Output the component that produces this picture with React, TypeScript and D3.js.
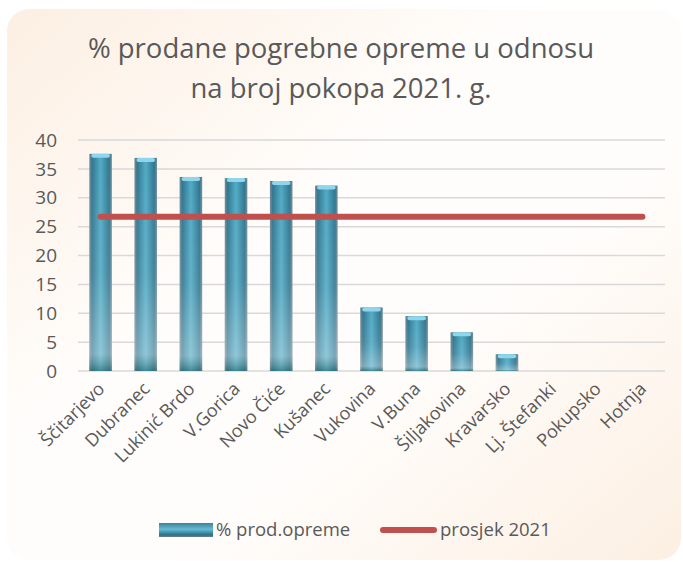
import * as d3 from "d3";
import React from "react";

const titleLines = ["% prodane pogrebne opreme u odnosu", "na broj pokopa 2021. g."];
const places = [
  "Ščitarjevo", "Dubranec", "Lukinić Brdo", "V.Gorica", "Novo Čiće", "Kušanec",
  "Vukovina", "V.Buna", "Šiljakovina", "Kravarsko", "Lj. Štefanki", "Pokupsko", "Hotnja",
];
const pctSold = [37.6, 36.9, 33.6, 33.4, 32.9, 32.1, 11.0, 9.5, 6.7, 2.9, 0, 0, 0];
const avg2021 = [26.7, 26.7, 26.7, 26.7, 26.7, 26.7, 26.7, 26.7, 26.7, 26.7, 26.7, 26.7, 26.7];
const yTicks = [0, 5, 10, 15, 20, 25, 30, 35, 40];
const seriesNames = ["% prod.opreme", "prosjek 2021"];

const W = 683;
const H = 562;
const FONT = "'Open Sans', sans-serif";
const TEXT = "#595959";

export default function App() {
  const x = d3.scaleBand<string>().domain(places).range([78, 665]).paddingInner(0.5).paddingOuter(0.25);
  const y = d3.scaleLinear().domain([0, 40]).range([371, 140]);
  const bw = x.bandwidth();

  const line = d3
    .line<number>()
    .x((_, i) => (x(places[i]) as number) + bw / 2)
    .y((d) => y(d));

  return (
    <svg width={W} height={H} style={{ position: "absolute", left: 0, top: 0 }} fontFamily={FONT}>
      <defs>
        <linearGradient id="bg" x1="0" y1="0" x2="1" y2="1">
          <stop offset="0" stopColor="#fcefe2" />
          <stop offset="0.4" stopColor="#fffdfb" />
          <stop offset="0.62" stopColor="#fffdfb" />
          <stop offset="1" stopColor="#fcefe2" />
        </linearGradient>
        <linearGradient id="cyl" x1="0" y1="0" x2="1" y2="0">
          <stop offset="0" stopColor="#7b8d96" />
          <stop offset="0.12" stopColor="#307690" />
          <stop offset="0.5" stopColor="#52abc5" />
          <stop offset="0.88" stopColor="#307690" />
          <stop offset="1" stopColor="#7b8d96" />
        </linearGradient>
        <linearGradient id="shine" x1="0" y1="0" x2="0" y2="1">
          <stop offset="0" stopColor="#ffffff" stopOpacity="0" />
          <stop offset="0.55" stopColor="#ffffff" stopOpacity="0.1" />
          <stop offset="0.92" stopColor="#ffffff" stopOpacity="0.35" />
          <stop offset="1" stopColor="#2e6b6a" stopOpacity="0.5" />
        </linearGradient>
        <linearGradient id="legcyl" x1="0" y1="0" x2="0" y2="1">
          <stop offset="0" stopColor="#3d8199" />
          <stop offset="0.45" stopColor="#63bcd6" />
          <stop offset="0.85" stopColor="#2f6f86" />
          <stop offset="1" stopColor="#6f7f86" />
        </linearGradient>
      </defs>

      <rect x={7} y={9} width={674} height={551} rx={22} fill="url(#bg)" />

      {titleLines.map((t, i) => (
        <text key={t} x={341} y={58 + i * 40} textAnchor="middle" fontSize={27.5} fill={TEXT}>
          {t}
        </text>
      ))}

      {yTicks.map((t) => (
        <g key={t}>
          <line x1={78} x2={665} y1={y(t)} y2={y(t)} stroke="#d9d9d9" strokeWidth={1.5} />
          <text x={57} y={y(t)} dy="0.35em" textAnchor="end" fontSize={19} fill={TEXT}>
            {t}
          </text>
        </g>
      ))}

      {pctSold.map((v, i) => {
        if (v <= 0) return null;
        const bx = x(places[i]) as number;
        const top = y(v);
        const h = y(0) - top;
        return (
          <g key={places[i]}>
            <rect x={bx} y={top} width={bw} height={h} fill="url(#cyl)" />
            <rect x={bx} y={top} width={bw} height={h} fill="url(#shine)" />
            <rect x={bx + 2} y={top} width={bw - 4} height={4} rx={2} fill="#8fd6ec" />
          </g>
        );
      })}

      <path
        d={line(avg2021) as string}
        fill="none"
        stroke="#c0504d"
        strokeWidth={6}
        strokeLinecap="round"
      />

      {places.map((p) => {
        const cx = (x(p) as number) + bw / 2 + 5;
        const cy = 390;
        return (
          <text
            key={p}
            transform={`translate(${cx},${cy}) rotate(-45)`}
            textAnchor="end"
            fontSize={18}
            fill={TEXT}
          >
            {p}
          </text>
        );
      })}

      <g>
        <rect x={159} y={523} width={54} height={14} fill="url(#legcyl)" />
        <text x={216} y={530} dy="0.35em" fontSize={18.5} fill={TEXT}>
          {seriesNames[0]}
        </text>
        <line x1={383} x2={434} y1={530} y2={530} stroke="#c0504d" strokeWidth={6} strokeLinecap="round" />
        <text x={440} y={530} dy="0.35em" fontSize={18.5} fill={TEXT}>
          {seriesNames[1]}
        </text>
      </g>
    </svg>
  );
}
